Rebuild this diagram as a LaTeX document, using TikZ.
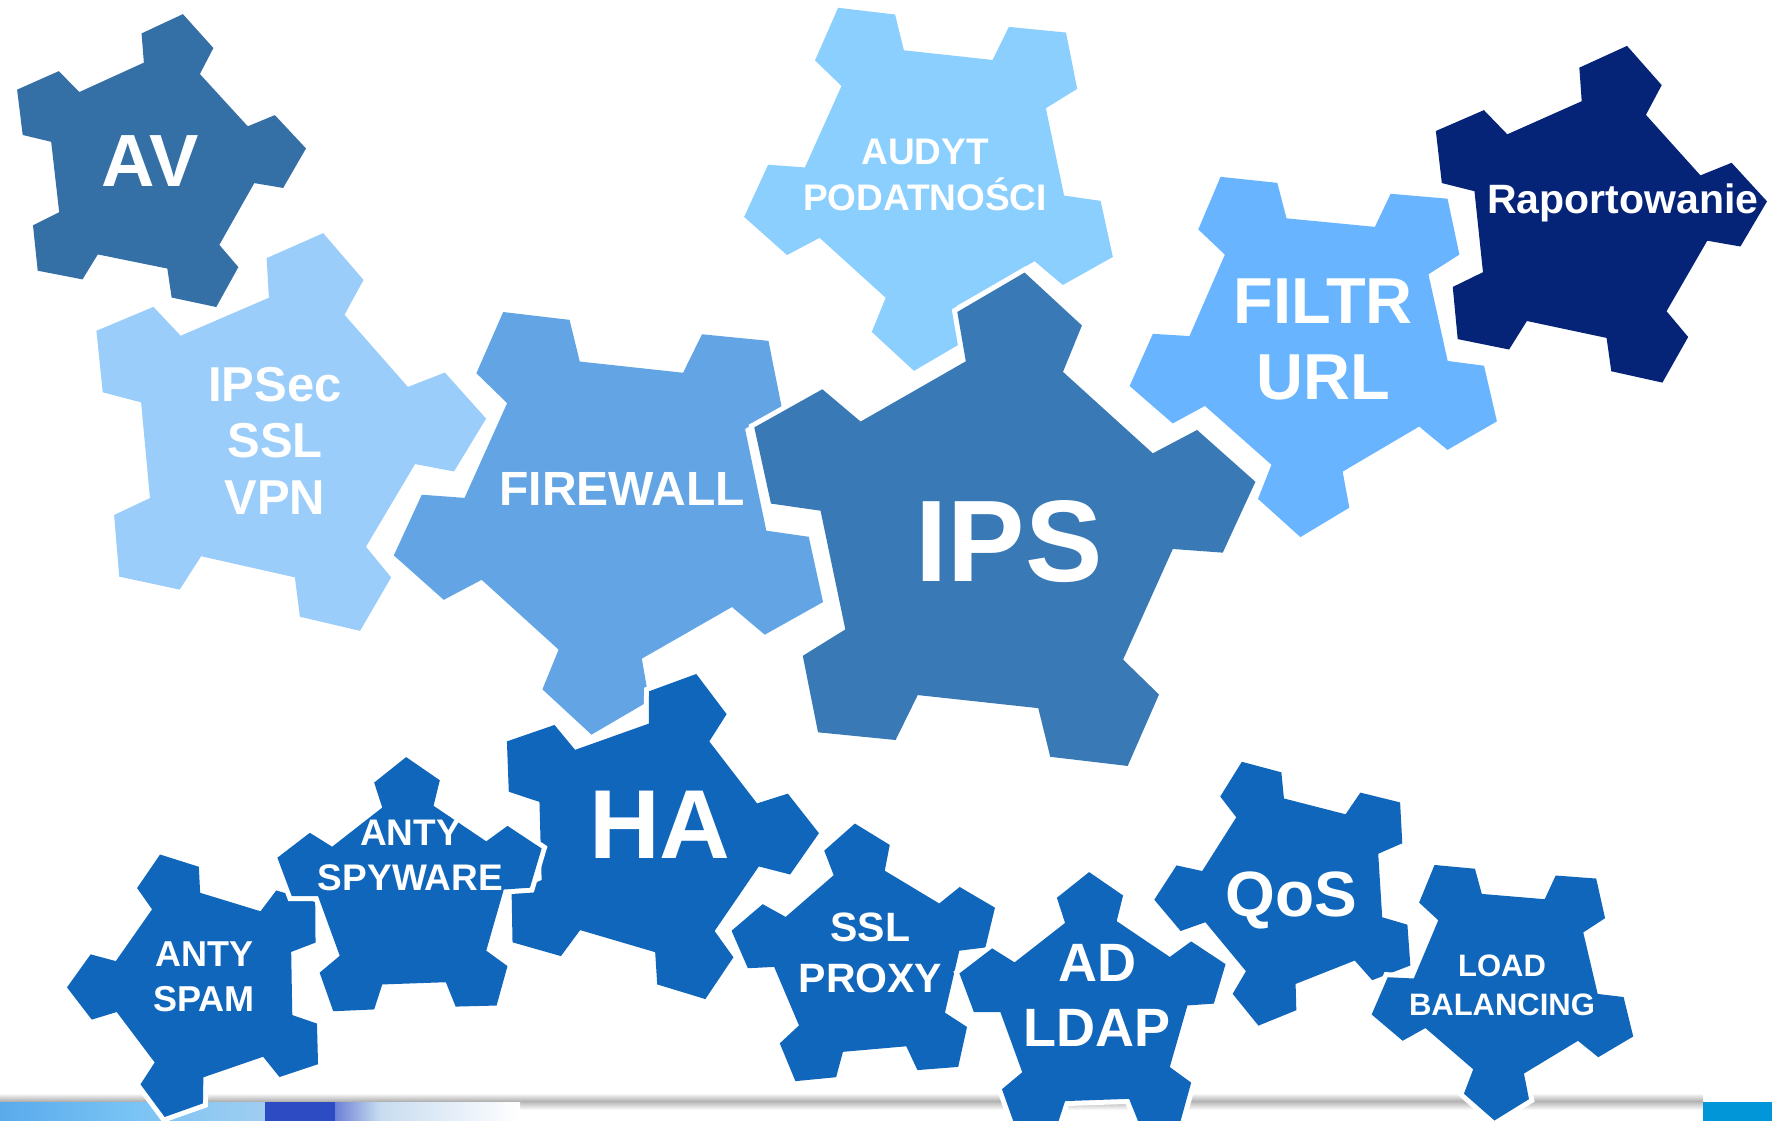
\documentclass[tikz,border=0pt]{standalone}
\usepackage{fontspec}
\setmainfont{Liberation Sans}

\definecolor{avblue}{RGB}{52,111,165}
\definecolor{ipsblue}{RGB}{56,121,182}
\definecolor{vpnblue}{RGB}{155,205,250}
\definecolor{fwblue}{RGB}{99,165,228}
\definecolor{audblue}{RGB}{139,207,255}
\definecolor{urlblue}{RGB}{104,180,255}
\definecolor{navyblue}{RGB}{5,36,120}
\definecolor{gearblue}{RGB}{16,102,186}
\definecolor{cyanbox}{RGB}{0,150,215}
\definecolor{glossA}{RGB}{90,170,235}
\definecolor{glossB}{RGB}{120,195,245}
\definecolor{glossC}{RGB}{160,205,240}
\definecolor{glossD}{RGB}{45,75,195}
\definecolor{glossE}{RGB}{200,220,240}

\begin{document}
\begin{tikzpicture}[x=1pt,y=1pt]
    \tikzstyle gear=[preaction={draw=white,line width=10pt}]
    \tikzstyle gearlabel=[text=white,align=center,inner sep=0pt]

    \useasboundingbox (0,0) rectangle (1772,-1121);

    % shadow line and strip at the bottom
    \shade[top color=white, bottom color=black!30] (0,-1093) rectangle (1703,-1101);
    \shade[top color=black!30, bottom color=white] (0,-1101) rectangle (1703,-1110);
    \shade[left color=glossA, right color=glossB] (0,-1102) rectangle (130,-1121);
    \shade[left color=glossB, right color=glossC] (130,-1102) rectangle (265,-1121);
    \fill[glossD] (265,-1102) rectangle (335,-1121);
    \shade[left color=glossD!70, right color=glossE] (335,-1102) rectangle (380,-1121);
    \shade[left color=glossE, right color=white] (380,-1102) rectangle (520,-1121);
    \fill[cyanbox] (1703,-1102) rectangle (1772,-1121);

    % gears: centre x / centre y / radius / turn / colour
    \foreach \cx/\cy/\r/\rot/\col in {
        152/166/155/78.5/avblue,
        277/438/210/77.3/vpnblue,
        935/177/195/47.8/audblue,
        616/509/227/47.8/fwblue,
        1319/344/194/48.5/urlblue,
        1590/220/178/78/navyblue,
        996/536/265/83.8/ipsblue,
        648/838/171/73.6/gearblue,
        205/985/138/37/gearblue,
        411/896/139/92/gearblue,
        867/962/139/95/gearblue,
        1293/891/139/39.6/gearblue,
        1094/1012/140/92/gearblue,
        1506/983/138/49.2/gearblue}
        \path[gear, fill=\col, shift={(\cx,-\cy)}, scale=\r, rotate=\rot]
            (0:1) \foreach \k in {0,...,4} {
                -- (\k*72+16:0.858) -- (\k*72+16:0.669) % notch in
                -- (\k*72+56:0.669) -- (\k*72+56:0.858) % notch out
                -- (\k*72+72:1)
            } -- cycle;

    % Labels:
    \node[gearlabel, anchor=base, font=\fontsize{74}{80}\selectfont\bfseries] (av) at (150,-186.5) {AV};
    \node[gearlabel, font=\fontsize{49}{56.5}\selectfont\bfseries] (vpn) at (275,-440.5) {IPSec\\SSL\\VPN};
    \node[gearlabel, font=\fontsize{37}{46}\selectfont\bfseries] (audyt) at (925,-174.8) {AUDYT\\PODATNOŚCI};
    \node[gearlabel, anchor=base, font=\fontsize{48}{54}\selectfont\bfseries] (firewall) at (622,-505.2) {FIREWALL};
    \node[gearlabel, font=\fontsize{65}{76}\selectfont\bfseries] (filtr) at (1323,-339.6) {FILTR\\URL};
    \node[gearlabel, anchor=base, font=\fontsize{41}{48}\selectfont\bfseries] (raport) at (1622.7,-213.4) {Raportowanie};
    \node[gearlabel, anchor=base, font=\fontsize{116}{120}\selectfont\bfseries] (ips) at (1009,-581.5) {IPS};
    \node[gearlabel, anchor=base, font=\fontsize{98}{104}\selectfont\bfseries] (ha) at (660,-858.4) {HA};
    \node[gearlabel, font=\fontsize{36}{44.7}\selectfont\bfseries] (spam) at (204.3,-976.9) {ANTY\\SPAM};
    \node[gearlabel, font=\fontsize{37}{45}\selectfont\bfseries] (spyware) at (410.5,-855.1) {ANTY\\SPYWARE};
    \node[gearlabel, font=\fontsize{41}{51.7}\selectfont\bfseries] (proxy) at (870.5,-952.9) {SSL\\PROXY};
    \node[gearlabel, anchor=base, font=\fontsize{64}{70}\selectfont\bfseries] (qos) at (1291,-916.7) {QoS};
    \node[gearlabel, font=\fontsize{54}{64.7}\selectfont\bfseries] (ldap) at (1097,-995.7) {AD\\LDAP};
    \node[gearlabel, font=\fontsize{31}{39.5}\selectfont\bfseries] (balancing) at (1502,-985.3) {LOAD\\BALANCING};
\end{tikzpicture}
\end{document}
